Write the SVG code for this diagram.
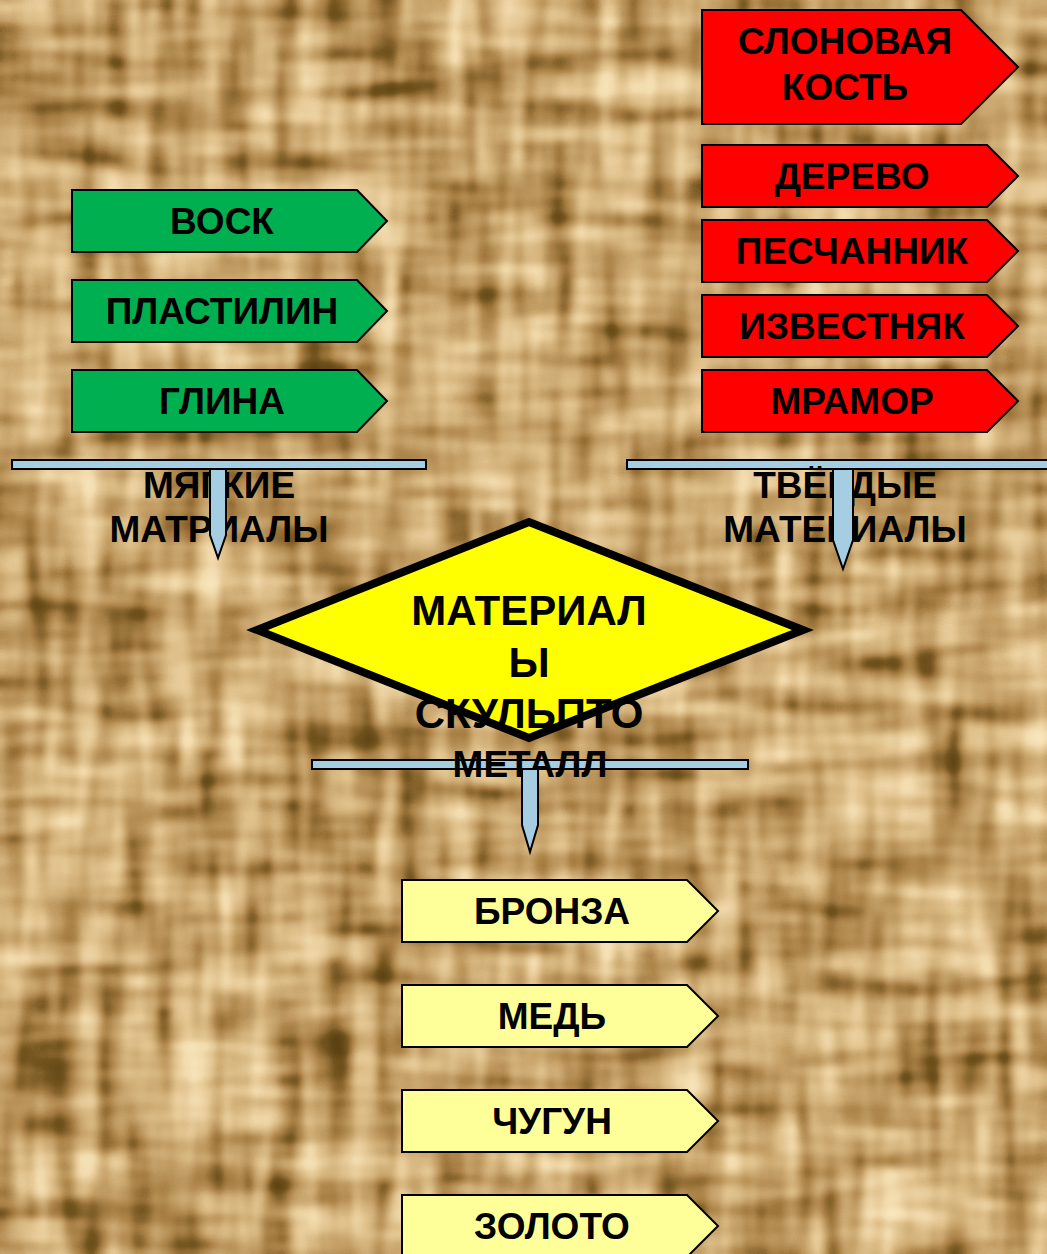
<svg xmlns="http://www.w3.org/2000/svg" width="1047" height="1254" viewBox="0 0 1047 1254">
<defs>
<filter id="burlap" x="0" y="0" width="1047" height="1254" filterUnits="userSpaceOnUse" color-interpolation-filters="sRGB">
 <feTurbulence type="fractalNoise" baseFrequency="0.007 0.04" numOctaves="2" seed="4" result="h"/>
 <feTurbulence type="fractalNoise" baseFrequency="0.04 0.007" numOctaves="2" seed="9" result="v"/>
 <feComposite in="h" in2="v" operator="arithmetic" k2="0.5" k3="0.5" result="m"/>
 <feGaussianBlur in="m" stdDeviation="2" result="mb"/>
 <feColorMatrix in="mb" type="matrix" values="1 0 0 0 0  1 0 0 0 0  1 0 0 0 0  0 0 0 0 1" result="g"/>
 <feComponentTransfer in="g">
  <feFuncR type="table" tableValues="0.35 0.35 0.35 0.45 0.66 0.78 0.88 0.95 0.98 0.98 0.98"/>
  <feFuncG type="table" tableValues="0.25 0.25 0.25 0.33 0.5 0.64 0.76 0.86 0.91 0.91 0.91"/>
  <feFuncB type="table" tableValues="0.07 0.07 0.07 0.12 0.27 0.42 0.55 0.68 0.75 0.75 0.75"/>
 </feComponentTransfer>
</filter>
</defs>
<style>
 .lbl{font-family:"Liberation Sans",Arial,sans-serif;font-weight:bold;font-size:37px;fill:#000;text-anchor:middle}
 .big{font-size:42px}
 .box{stroke:#000;stroke-width:2}
 .soft{fill:#00B050}
 .hard{fill:#FF0000}
 .metal{fill:#FFFF99}
 .bar{fill:#A6CEE3;stroke:#000;stroke-width:2}
</style>
<rect id="background" x="0" y="0" width="1047" height="1254" fill="#C4A468" filter="url(#burlap)"/>

<g id="connector-bars">
 <rect class="bar" x="12" y="460" width="414" height="9"/>
 <rect class="bar" x="627" y="460" width="430" height="9"/>
 <rect class="bar" x="312" y="760" width="436" height="9"/>
</g>

<g id="center">
 <path d="M257,630 L529,522 L803,630 L529,738 Z" fill="#FFFF00" stroke="#000" stroke-width="8"/>
 <text class="lbl big" x="529" y="625">МАТЕРИАЛ</text>
 <text class="lbl big" x="529" y="677">Ы</text>
 <text class="lbl big" x="529" y="728">СКУЛЬПТО</text>
</g>

<g id="label-soft">
 <text class="lbl" x="219" y="498">МЯГКИЕ</text>
 <text class="lbl" x="219" y="542">МАТРИАЛЫ</text>
</g>
<g id="label-hard">
 <text class="lbl" x="845" y="498">ТВЁРДЫЕ</text>
 <text class="lbl" x="845" y="542">МАТЕРИАЛЫ</text>
</g>
<g id="label-metal">
 <text class="lbl" x="530" y="777">МЕТАЛЛ</text>
</g>

<g id="connector-stems">
 <path class="bar" d="M210,469 L226,469 L226,535 L218,558 L210,535 Z"/>
 <path class="bar" d="M833,469 L853,469 L853,540 L843,569 L833,540 Z"/>
 <path class="bar" d="M522,769 L538,769 L538,825 L530,852 L522,825 Z"/>
</g>

<g id="wax">
 <path class="box soft" d="M72,190 H357 L387,221 L357,252 H72 Z"/>
 <text class="lbl" x="222" y="234">ВОСК</text>
</g>
<g id="plasticine">
 <path class="box soft" d="M72,280 H357 L387,311 L357,342 H72 Z"/>
 <text class="lbl" x="222" y="324">ПЛАСТИЛИН</text>
</g>
<g id="clay">
 <path class="box soft" d="M72,370 H357 L387,401 L357,432 H72 Z"/>
 <text class="lbl" x="222" y="414">ГЛИНА</text>
</g>

<g id="ivory">
 <path class="box hard" d="M702,10 H961 L1018,67 L961,124 H702 Z"/>
 <text class="lbl" x="845" y="54">СЛОНОВАЯ</text>
 <text class="lbl" x="845" y="100">КОСТЬ</text>
</g>
<g id="wood">
 <path class="box hard" d="M702,145 H987 L1018,176 L987,207 H702 Z"/>
 <text class="lbl" x="852" y="189">ДЕРЕВО</text>
</g>
<g id="sandstone">
 <path class="box hard" d="M702,220 H987 L1018,251 L987,282 H702 Z"/>
 <text class="lbl" x="852" y="264">ПЕСЧАННИК</text>
</g>
<g id="limestone">
 <path class="box hard" d="M702,295 H987 L1018,326 L987,357 H702 Z"/>
 <text class="lbl" x="852" y="339">ИЗВЕСТНЯК</text>
</g>
<g id="marble">
 <path class="box hard" d="M702,370 H987 L1018,401 L987,432 H702 Z"/>
 <text class="lbl" x="852" y="414">МРАМОР</text>
</g>

<g id="bronze">
 <path class="box metal" d="M402,880 H687 L718,911 L687,942 H402 Z"/>
 <text class="lbl" x="552" y="924">БРОНЗА</text>
</g>
<g id="copper">
 <path class="box metal" d="M402,985 H687 L718,1016 L687,1047 H402 Z"/>
 <text class="lbl" x="552" y="1029">МЕДЬ</text>
</g>
<g id="cast-iron">
 <path class="box metal" d="M402,1090 H687 L718,1121 L687,1152 H402 Z"/>
 <text class="lbl" x="552" y="1134">ЧУГУН</text>
</g>
<g id="gold">
 <path class="box metal" d="M402,1195 H687 L718,1226 L687,1257 H402 Z"/>
 <text class="lbl" x="552" y="1239">ЗОЛОТО</text>
</g>
</svg>
